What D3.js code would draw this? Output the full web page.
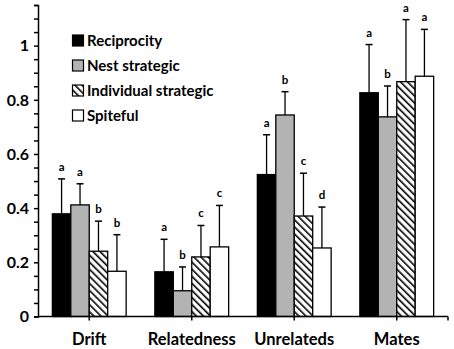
<!DOCTYPE html>
<html>
<head>
<meta charset="utf-8">
<script src="https://cdn.jsdelivr.net/npm/d3@7"></script>
<style>
  body { margin: 0; background: #fff; }
  text { font-family: Lato, "Open Sans", sans-serif; font-weight: bold; fill: #000; }
</style>
</head>
<body>
<div id="chart"></div>
<script>
// chart data
const categories = ["Drift", "Relatedness", "Unrelateds", "Mates"];
const series = ["Reciprocity", "Nest strategic", "Individual strategic", "Spiteful"];

const reciprocity = [0.379, 0.165, 0.524, 0.826];
const nestStrategic = [0.412, 0.095, 0.744, 0.737];
const indivStrategic = [0.241, 0.220, 0.371, 0.867];
const spiteful = [0.167, 0.257, 0.253, 0.887];

const errReciprocity = [0.129, 0.120, 0.147, 0.178];
const errNest = [0.078, 0.088, 0.086, 0.114];
const errIndiv = [0.111, 0.116, 0.158, 0.229];
const errSpiteful = [0.135, 0.153, 0.151, 0.173];

const letters = [
    ["a", "a", "b", "b"],
    ["a", "b", "c", "c"],
    ["a", "b", "c", "d"],
    ["a", "b", "a", "a"]
];

const yTicks = [0, 0.2, 0.4, 0.6, 0.8, 1];

const values = [reciprocity, nestStrategic, indivStrategic, spiteful];
const errors = [errReciprocity, errNest, errIndiv, errSpiteful];

const width = 454;
const height = 349;

const svg = d3.select("#chart")
    .append("svg")
        .attr("width", width)
        .attr("height", height);

// hatch pattern for "Individual strategic"
const defs = svg.append("defs");
const pat = defs.append("pattern")
    .attr("id", "hatch")
    .attr("patternUnits", "userSpaceOnUse")
    .attr("width", 5)
    .attr("height", 5)
    .attr("patternTransform", "rotate(-45)");
pat.append("rect").attr("width", 5).attr("height", 5).attr("fill", "#fff");
pat.append("line")
    .attr("x1", 0).attr("y1", 0).attr("x2", 0).attr("y2", 5)
    .attr("stroke", "#000").attr("stroke-width", 3.2);

const fills = ["#000", "#b3b3b3", "url(#hatch)", "#fff"];

const x0 = d3.scaleBand()
    .domain(categories)
    .range([38, 448])
    .paddingInner(0.28)
    .paddingOuter(0.14);

const x1 = d3.scaleBand()
    .domain(series)
    .range([0, x0.bandwidth()]);

const y = d3.scaleLinear()
    .domain([0, 1.15])
    .range([316.5, 5]);

// y axis with minor ticks every 0.05
const minor = d3.range(0, 1.1501, 0.05);
const yAxis = svg.append("g")
    .attr("transform", "translate(38,0)")
    .call(d3.axisLeft(y).tickValues(minor).tickSize(4).tickFormat(""));
yAxis.select(".domain").attr("stroke", "#000").attr("stroke-width", 1.5);
yAxis.selectAll(".tick line").attr("stroke", "#000").attr("stroke-width", 1.5);

svg.append("g")
    .selectAll("text")
    .data(yTicks)
    .join("text")
        .attr("x", 29)
        .attr("y", d => y(d))
        .attr("dy", "0.36em")
        .attr("text-anchor", "end")
        .style("font-size", "16px")
        .text(d => d);

// groups of bars
const groups = svg.append("g")
    .selectAll("g")
    .data(categories)
    .join("g")
        .attr("transform", d => `translate(${x0(d)},0)`);

const cells = groups.selectAll("g")
    .data((c, ci) => series.map((s, si) => ({
        s: s, si: si,
        v: values[si][ci],
        e: errors[si][ci],
        l: letters[ci][si]
    })))
    .join("g");

cells.append("rect")
    .attr("x", d => x1(d.s))
    .attr("y", d => y(d.v))
    .attr("width", x1.bandwidth())
    .attr("height", d => y(0) - y(d.v))
    .attr("fill", d => fills[d.si])
    .attr("stroke", "#000")
    .attr("stroke-width", 1.3);

// upper error bars
const cx = d => x1(d.s) + x1.bandwidth() / 2;
cells.append("line")
    .attr("x1", cx).attr("x2", cx)
    .attr("y1", d => y(d.v))
    .attr("y2", d => y(d.v + d.e))
    .attr("stroke", "#000")
    .attr("stroke-width", 1.3);
cells.append("line")
    .attr("x1", d => cx(d) - 3.5).attr("x2", d => cx(d) + 3.5)
    .attr("y1", d => y(d.v + d.e))
    .attr("y2", d => y(d.v + d.e))
    .attr("stroke", "#000")
    .attr("stroke-width", 1.5);

cells.append("text")
    .attr("x", cx)
    .attr("y", d => y(d.v + d.e) - 8)
    .attr("text-anchor", "middle")
    .style("font-size", "11.5px")
    .text(d => d.l);

// x axis
const xAxis = svg.append("g")
    .attr("transform", "translate(0,316.5)");
xAxis.append("line")
    .attr("x1", 38).attr("x2", 448)
    .attr("stroke", "#000").attr("stroke-width", 1.5);
xAxis.selectAll(".xt")
    .data(categories.map(c => x0(c) + x0.bandwidth() / 2).concat([448]))
    .join("line")
        .attr("class", "xt")
        .attr("x1", d => d).attr("x2", d => d)
        .attr("y1", 0).attr("y2", 4)
        .attr("stroke", "#000").attr("stroke-width", 1.5);

svg.append("g")
    .selectAll("text")
    .data(categories)
    .join("text")
        .attr("x", d => x0(d) + x0.bandwidth() / 2)
        .attr("y", 345)
        .attr("text-anchor", "middle")
        .style("font-size", "16.5px")
        .text(d => d);

// legend
const legend = svg.append("g")
    .selectAll("g")
    .data(series)
    .join("g")
        .attr("transform", (d, i) => `translate(72,${40.5 + i * 25})`);

legend.append("rect")
    .attr("x", 0.5)
    .attr("y", -5.5)
    .attr("width", 11)
    .attr("height", 11)
    .attr("fill", (d, i) => fills[i])
    .attr("stroke", "#000")
    .attr("stroke-width", 1.2);

legend.append("text")
    .attr("x", 15)
    .attr("dy", "0.36em")
    .style("font-size", "15px")
    .text(d => d);
</script>
</body>
</html>
